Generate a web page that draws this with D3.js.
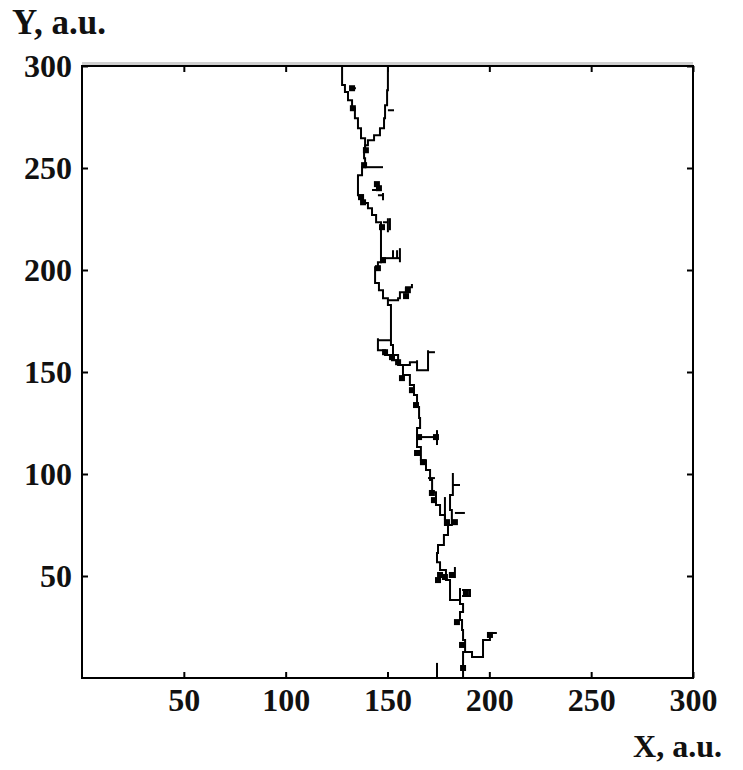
<!DOCTYPE html>
<html>
<head>
<meta charset="utf-8">
<style>
  body { margin: 0; background: #fff; }
  svg { display: block; }
  .lbl { font-family: 'Liberation Serif', 'Times New Roman', serif; font-weight: bold; font-size: 32px; fill: #111; }
  .tick text { font-family: 'Liberation Serif', 'Times New Roman', serif; font-weight: bold; font-size: 32px; fill: #111; }
</style>
<title>Crack path</title>
</head>
<body>
<svg width="743" height="770"></svg>
<script src="https://d3js.org/d3.v7.min.js"></script>
<script>
// ticks
const xTicks = [50, 100, 150, 200, 250, 300];
const yTicks = [50, 100, 150, 200, 250, 300];

// main crack path, top to bottom (two top branches meet at the junction)
const leftTop = [[127.7,300],[127.7,290.7],[129.1,287.2],[130.6,283.2],[132.6,279.3],[134.0,274.4],[135.5,269.5],[137.0,264.6],[139.0,259.7]];
const rightTop = [[150.2,300],[150.2,288.1],[149.8,280.8],[148.8,274.4],[148.3,269.5],[146.3,266.1],[143.4,263.6],[140.4,261.2],[139.0,259.7]];
const mainPath = [[139.0,259.7],[138.5,254.8],[139.0,250.4],[137.5,246.5],[135.5,244.0],[135.5,236.7],[138.0,232.8],[140.4,230.3],
  [142.4,226.9],[144.4,223.4],[146.8,220.5],[146.8,214.6],[146.8,207.3],[146.8,203.8],[145.3,201.4],[143.9,197.5],[143.9,193.6],
  [145.8,190.1],[147.8,186.2],[150.2,182.8],[151.7,176.4],[151.7,169.5],[151.7,163.2],[152.7,158.3],[155.2,153.4],[157.6,148.5],
  [161.0,143.6],[163.0,138.7],[164.5,132.8],[165.5,127.4],[166.0,122.5],[164.5,118.1],[164.5,113.2],[166.4,106.8],[168.9,101.9],
  [170.9,97.0],[171.9,91.1],[173.8,84.8],[175.8,79.9],[178.2,75.0],[179.7,70.1],[177.7,65.2],[174.8,61.3],[174.3,56.8],
  [175.8,52.9],[178.7,48.0],[180.7,43.1],[180.7,38.2],[185.6,36.3],[187.1,32.3],[185.6,28.4],[186.6,23.5],[187.1,18.6],
  [188.1,12.7],[187.1,7.8],[187.1,0]];

// side branches and stubs
const branches = [
  [[139.0,250.4],[147.8,250.4]],
  [[142.4,239.2],[145.3,242.6]],
  [[145.3,236.7],[147.8,234.2],[147.8,237.7]],
  [[147.8,223.4],[150.2,225.4],[150.2,218.5]],
  [[151.2,225.4],[151.2,219.5]],
  [[146.8,205.8],[156.1,205.8]],
  [[152.7,205.8],[152.7,209.7]],
  [[154.7,205.8],[154.7,209.7]],
  [[156.1,210.7],[156.1,203.8]],
  [[150.2,185.2],[155.2,186.2],[156.1,189.1],[159.1,191.6],[162.0,193.1]],
  [[151.7,165.6],[145.3,166.6],[145.3,160.7],[148.8,158.3],[152.2,155.8],[155.2,153.4]],
  [[157.6,153.4],[161.0,154.8],[164.5,155.8],[164.5,150.9],[169.9,150.9],[169.9,160.7]],
  [[169.9,159.7],[173.3,159.7]],
  [[164.5,118.1],[174.3,118.1]],
  [[174.3,121.5],[174.3,114.2]],
  [[178.2,75.0],[181.6,76.4],[181.6,82.3],[180.7,89.7],[182.1,94.6],[182.1,100.5]],
  [[182.1,94.6],[185.6,94.6]],
  [[183.1,80.9],[188.0,80.9]],
  [[178.2,88.7],[178.2,77.5]],
  [[169.9,98.0],[173.3,98.0]],
  [[183.1,54.4],[183.1,49.0]],
  [[185.6,44.1],[185.6,36.8]],
  [[186.6,43.1],[190.5,43.1],[190.5,40.2],[186.6,40.2]],
  [[188.1,12.7],[191.5,12.7],[191.5,10.3],[196.9,10.3],[196.9,18.6],[200.3,18.6],[200.3,22.1],[203.7,22.1]],
  [[174.3,7.4],[174.3,0]],
  [[131.6,289.1],[134.5,289.1]],
  [[150.2,278.3],[153.2,278.3]]
];

// thick spots along the crack
const blobs = [[132.6,289.1],[133.0,279.3],[139.4,258.7],[138.5,251.4],[144.8,242.1],[145.8,240.1],[138.0,233.2],[137.0,235.7],
  [147.3,221.0],[147.8,204.8],[145.3,200.9],[160.0,190.1],[159.1,187.2],[148.8,159.7],[152.2,157.3],[155.2,154.8],[157.1,147.0],
  [162.0,141.1],[164.0,133.8],[165.5,118.1],[173.8,118.1],[164.5,110.3],[167.4,105.8],[171.8,90.7],[172.8,87.2],[179.2,76.4],
  [183.1,76.4],[175.8,50.5],[174.8,48.0],[178.2,49.5],[181.6,50.5],[188.5,41.7],[184.1,27.4],[186.6,16.2],[187.1,4.9],[200.3,21.1]];

const svg = d3.select("svg");
const x = d3.scaleLinear().domain([0, 300]).range([82, 693]);
const y = d3.scaleLinear().domain([0, 300]).range([678, 66]);

// light grey band above the top edge
svg.append("rect").attr("x", 82).attr("y", 62).attr("width", 611).attr("height", 3).attr("fill", "#cfcfcf");

const line = d3.line().x(d => x(d[0])).y(d => y(d[1])).curve(d3.curveStepAfter);

const crack = svg.append("g").attr("fill", "none").attr("stroke", "#000").attr("stroke-width", 2);
crack.selectAll(".br")
  .data([leftTop, rightTop, mainPath].concat(branches))
  .join("path")
  .attr("d", line);

svg.append("g").selectAll("rect")
  .data(blobs)
  .join("rect")
  .attr("x", d => x(d[0]) - 3)
  .attr("y", d => y(d[1]) - 3)
  .attr("width", 6)
  .attr("height", 6)
  .attr("fill", "#000");

// axes: inward ticks, labels on bottom and left only
svg.append("g").attr("transform", "translate(0,678)")
  .call(d3.axisBottom(x).tickValues(xTicks).tickSize(-6).tickPadding(10))
  .call(g => g.select(".domain").remove());
svg.append("g").attr("transform", "translate(82,0)")
  .call(d3.axisLeft(y).tickValues(yTicks).tickSize(-6).tickPadding(10))
  .call(g => g.select(".domain").remove());
svg.append("g").attr("transform", "translate(0,66)")
  .call(d3.axisTop(x).tickValues(xTicks).tickSize(-6).tickFormat(""))
  .call(g => g.select(".domain").remove());
svg.append("g").attr("transform", "translate(693,0)")
  .call(d3.axisRight(y).tickValues(yTicks).tickSize(-6).tickFormat(""))
  .call(g => g.select(".domain").remove());
svg.selectAll(".tick line").attr("stroke", "#000").attr("stroke-width", 2);

svg.append("rect").attr("x", 82).attr("y", 66).attr("width", 611).attr("height", 612)
  .attr("fill", "none").attr("stroke", "#000").attr("stroke-width", 2);

svg.append("text").attr("class", "lbl").attr("x", 12).attr("y", 34).style("font-size", "35px").text("Y, a.u.");
svg.append("text").attr("class", "lbl").attr("x", 722).attr("y", 757).attr("text-anchor", "end").text("X, a.u.");
</script>
</body>
</html>
